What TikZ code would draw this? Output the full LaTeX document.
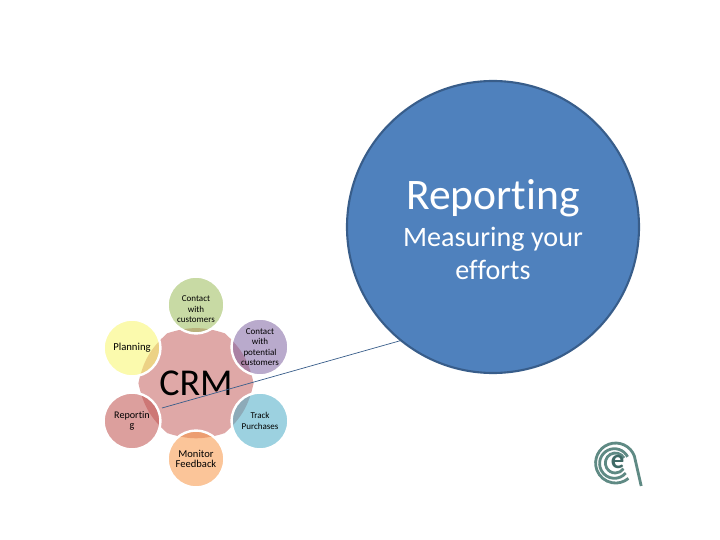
\documentclass[tikz,border=0pt]{standalone}
\usepackage{fontspec}
\setmainfont[Ligatures=NoCommon]{Carlito}
\usepackage{xcolor}
\usetikzlibrary{positioning}
\definecolor{gearpink}{HTML}{DFA8A7}
\definecolor{bigblue}{HTML}{4F81BD}
\definecolor{bigedge}{HTML}{385D8A}
\definecolor{leafgreen}{HTML}{9BBB59}
\definecolor{leafpurple}{HTML}{8064A2}
\definecolor{leafblue}{HTML}{4BACC6}
\definecolor{leaforange}{HTML}{F79646}
\definecolor{leafred}{HTML}{C0504D}
\definecolor{leafyellow}{HTML}{F8F66A}
\definecolor{logoteal}{HTML}{5F8A84}
\definecolor{logodark}{HTML}{3F6A66}

\begin{document}
\begin{tikzpicture}

    % --- STYLES ---
    \tikzset{leaf/.style={circle, minimum size=1.42cm, inner sep=0pt, outer sep=0pt, draw=white, line width=1.7pt, fill opacity=0.55}}
    \tikzset{leaftext/.style={inner sep=0pt, align=center}}
    \tikzset{logoarc/.style={draw=logoteal, line width=2pt}}

    \useasboundingbox (0,0) rectangle (18,13.5);

    % --- CENTRE ---
    \fill[gearpink, shift={(4.9,3.92)}] (0:1.44) to[bend right=18] (60:1.44) to[bend right=18] (120:1.44)
        to[bend right=18] (180:1.44) to[bend right=18] (240:1.44) to[bend right=18] (300:1.44) to[bend right=18] cycle;
    \node[font=\fontsize{27}{30}\selectfont] (crm) at (4.9,3.92) {CRM};

    % --- LEAVES ---
    \foreach \nm/\x/\y/\col/\fs/\dy/\txt in {
        customers/4.9/5.875/leafgreen/6.4/-0.11/{Contact\\with\\customers},
        potential/6.5/4.825/leafpurple/6.4/0/{Contact\\with\\potential\\customers},
        purchases/6.5/2.975/leafblue/6.4/0/{Track\\Purchases},
        feedback/4.9/2.025/leaforange/7.5/0/{Monitor\\Feedback},
        reporting/3.3/2.975/leafred/7.2/0/{Reportin\\g},
        planning/3.3/4.8/leafyellow/7.6/0/{Planning}}
    {
        \node[leaf, fill=\col] (\nm) at (\x,\y) {};
        \node[leaftext, font=\fontsize{\fs}{7.5}\selectfont] (\nm text) at (\x,\y+\dy) {\txt};
    }

    % --- BIG CIRCLE ---
    \node[circle, minimum size=7.3cm, inner sep=0pt, outer sep=0pt, fill=bigblue, draw=bigedge, line width=1.5pt] (big) at (12.325,7.825) {};
    \node[text=white, font=\fontsize{31}{33}\selectfont] (bighead) at (12.325,8.55) {Reporting};
    \node[text=white, align=center, font=\fontsize{20}{23.5}\selectfont] (bigtext) at (12.325,7.17) {Measuring your\\efforts};

    % --- CONNECTOR ---
    \coordinate (lineend) at (4.05,3.3);
    \draw[draw=bigedge, line width=0.5pt] (big.231.6) -- (lineend);

    % --- LOGO ---
    \draw[logoarc] (16.03,1.35) -- (15.86,2.095) arc (20:310:0.5);
    \draw[logoarc] (15.69,2.08) arc (27:320:0.37);
    \draw[logoarc] (15.6,2.05) arc (30:325:0.25);
    \node[text=logodark, inner sep=0pt, font=\fontsize{19}{19}\selectfont\bfseries] (logoe) at (15.44,1.95) {e};

\end{tikzpicture}
\end{document}
